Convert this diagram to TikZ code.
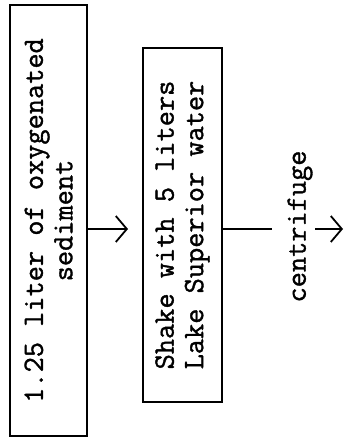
\documentclass[tikz,border=0pt]{standalone}
\usepackage{fontspec}
\newfontfamily\tw[FakeBold=1.2]{Latin Modern Mono}
\usetikzlibrary{arrows.meta}
\begin{document}
\begin{tikzpicture}[x=1pt,y=1pt,
  txt/.style={rotate=90, align=center, inner sep=0pt, font=\tw\fontsize{29.5}{29.5}\selectfont},
  stepbox/.style={txt, draw, line width=2.2pt},
  flow/.style={line width=1.4pt},
  arr/.style={flow, -{Straight Barb[length=11pt,width=26pt,line width=1.8pt]}}]
\useasboundingbox (0,0) rectangle (344,-439);
\node[stepbox, minimum width=431pt, minimum height=77pt] (box1) at (48.5,-220.5) {1.25 liter of oxygenated\\sediment};
\node[stepbox, minimum width=354pt, minimum height=79pt] (box2) at (182.5,-225) {Shake with 5 liters\\Lake Superior water};
\node[txt] (cf) at (300,-226.5) {centrifuge};
\coordinate (t1) at (128,-229);
\coordinate (g1) at (272,-229);
\coordinate (g2) at (315,-229);
\coordinate (t2) at (343,-229);
\draw[arr] (box1.south |- t1) -- (t1);
\draw[flow] (box2.south |- g1) -- (g1);
\draw[arr] (g2) -- (t2);
\end{tikzpicture}
\end{document}
